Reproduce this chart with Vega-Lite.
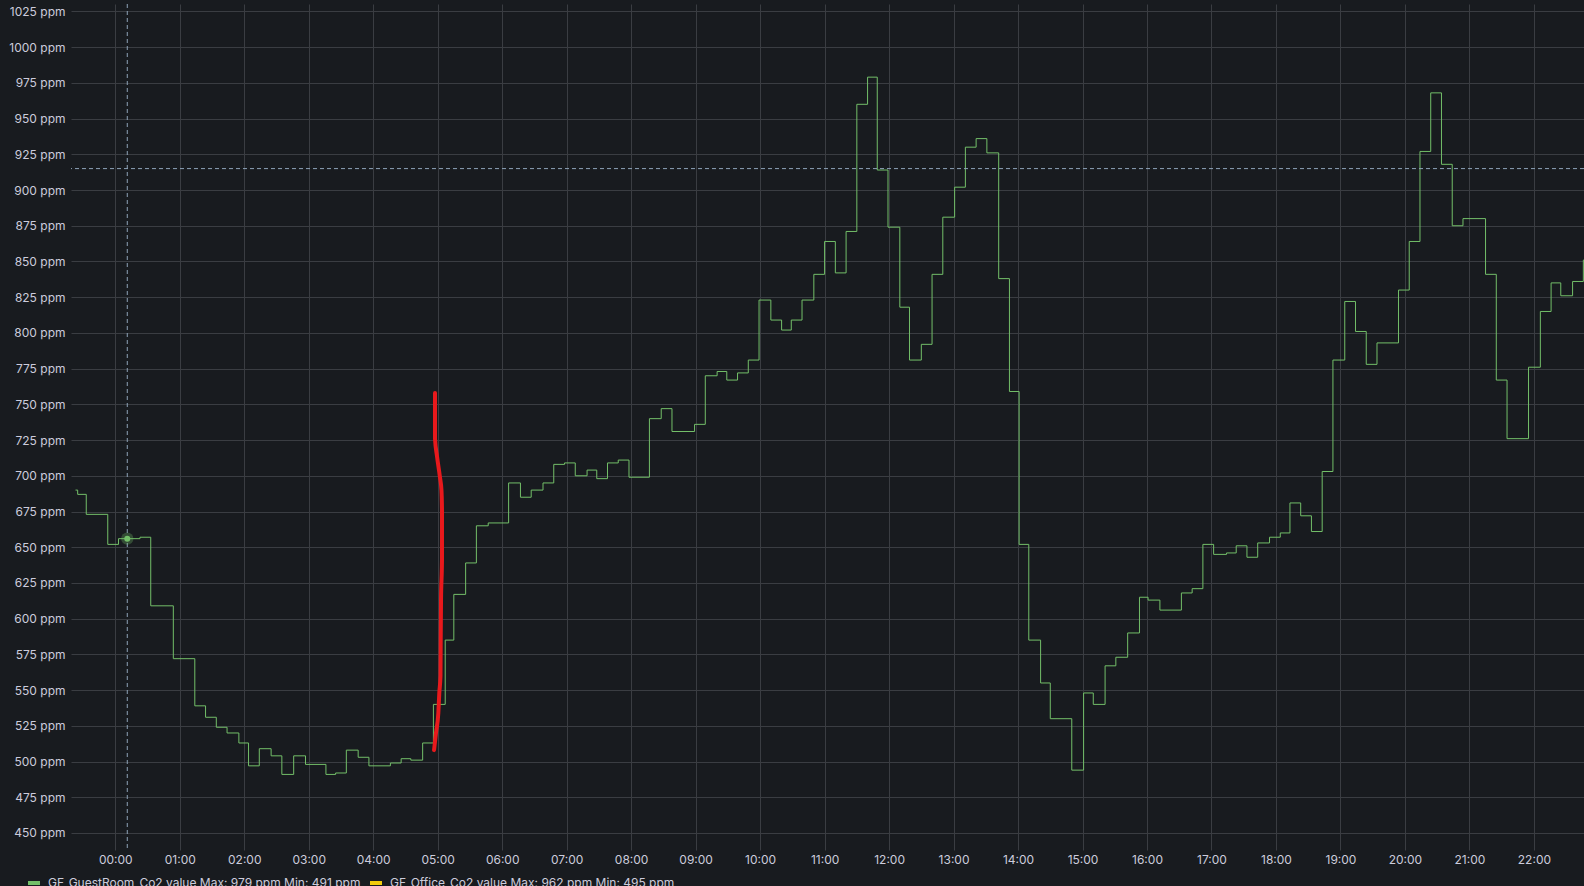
{
  "$schema": "https://vega.github.io/schema/vega-lite/v6.json",
  "width": 1513,
  "height": 846,
  "autosize": {"type": "none"},
  "padding": {"left": 71, "top": 4, "right": 0, "bottom": 36},
  "background": "#181b1f",
  "config": {
    "view": {"stroke": null},
    "font": "Inter",
    "axis": {
      "labelFont": "Inter",
      "labelFontSize": 12,
      "labelColor": "#ccccdc",
      "gridColor": "#3a3d42",
      "gridWidth": 1,
      "domain": false,
      "ticks": false,
      "title": null
    }
  },
  "datasets": {
    "co2": [
      {"time": "2023-12-31T23:23:00", "ppm": 690},
      {"time": "2023-12-31T23:25:00", "ppm": 687},
      {"time": "2023-12-31T23:33:00", "ppm": 673},
      {"time": "2023-12-31T23:53:00", "ppm": 652},
      {"time": "2024-01-01T00:03:00", "ppm": 656},
      {"time": "2024-01-01T00:23:00", "ppm": 657},
      {"time": "2024-01-01T00:33:00", "ppm": 609},
      {"time": "2024-01-01T00:54:00", "ppm": 572},
      {"time": "2024-01-01T01:14:00", "ppm": 539},
      {"time": "2024-01-01T01:24:00", "ppm": 531},
      {"time": "2024-01-01T01:34:00", "ppm": 524},
      {"time": "2024-01-01T01:44:00", "ppm": 520},
      {"time": "2024-01-01T01:55:00", "ppm": 513},
      {"time": "2024-01-01T02:04:00", "ppm": 497},
      {"time": "2024-01-01T02:14:00", "ppm": 509},
      {"time": "2024-01-01T02:25:00", "ppm": 504},
      {"time": "2024-01-01T02:35:00", "ppm": 491},
      {"time": "2024-01-01T02:46:00", "ppm": 504},
      {"time": "2024-01-01T02:57:00", "ppm": 498},
      {"time": "2024-01-01T03:16:00", "ppm": 491},
      {"time": "2024-01-01T03:25:00", "ppm": 492},
      {"time": "2024-01-01T03:35:00", "ppm": 508},
      {"time": "2024-01-01T03:46:00", "ppm": 503},
      {"time": "2024-01-01T03:56:00", "ppm": 497},
      {"time": "2024-01-01T04:16:00", "ppm": 499},
      {"time": "2024-01-01T04:26:00", "ppm": 502},
      {"time": "2024-01-01T04:35:00", "ppm": 501},
      {"time": "2024-01-01T04:46:00", "ppm": 513},
      {"time": "2024-01-01T04:56:00", "ppm": 540},
      {"time": "2024-01-01T05:07:00", "ppm": 585},
      {"time": "2024-01-01T05:15:00", "ppm": 617},
      {"time": "2024-01-01T05:26:00", "ppm": 639},
      {"time": "2024-01-01T05:36:00", "ppm": 665},
      {"time": "2024-01-01T05:47:00", "ppm": 667},
      {"time": "2024-01-01T06:06:00", "ppm": 695},
      {"time": "2024-01-01T06:17:00", "ppm": 685},
      {"time": "2024-01-01T06:27:00", "ppm": 690},
      {"time": "2024-01-01T06:38:00", "ppm": 695},
      {"time": "2024-01-01T06:48:00", "ppm": 708},
      {"time": "2024-01-01T06:58:00", "ppm": 709},
      {"time": "2024-01-01T07:08:00", "ppm": 700},
      {"time": "2024-01-01T07:19:00", "ppm": 704},
      {"time": "2024-01-01T07:28:00", "ppm": 698},
      {"time": "2024-01-01T07:38:00", "ppm": 709},
      {"time": "2024-01-01T07:48:00", "ppm": 711},
      {"time": "2024-01-01T07:58:00", "ppm": 699},
      {"time": "2024-01-01T08:17:00", "ppm": 740},
      {"time": "2024-01-01T08:28:00", "ppm": 747},
      {"time": "2024-01-01T08:38:00", "ppm": 731},
      {"time": "2024-01-01T08:59:00", "ppm": 736},
      {"time": "2024-01-01T09:09:00", "ppm": 770},
      {"time": "2024-01-01T09:20:00", "ppm": 773},
      {"time": "2024-01-01T09:29:00", "ppm": 767},
      {"time": "2024-01-01T09:39:00", "ppm": 772},
      {"time": "2024-01-01T09:49:00", "ppm": 781},
      {"time": "2024-01-01T09:59:00", "ppm": 823},
      {"time": "2024-01-01T10:10:00", "ppm": 809},
      {"time": "2024-01-01T10:20:00", "ppm": 802},
      {"time": "2024-01-01T10:29:00", "ppm": 809},
      {"time": "2024-01-01T10:39:00", "ppm": 823},
      {"time": "2024-01-01T10:50:00", "ppm": 841},
      {"time": "2024-01-01T11:00:00", "ppm": 864},
      {"time": "2024-01-01T11:10:00", "ppm": 842},
      {"time": "2024-01-01T11:20:00", "ppm": 871},
      {"time": "2024-01-01T11:30:00", "ppm": 960},
      {"time": "2024-01-01T11:40:00", "ppm": 979},
      {"time": "2024-01-01T11:49:00", "ppm": 914},
      {"time": "2024-01-01T11:59:00", "ppm": 874},
      {"time": "2024-01-01T12:10:00", "ppm": 818},
      {"time": "2024-01-01T12:19:00", "ppm": 781},
      {"time": "2024-01-01T12:30:00", "ppm": 792},
      {"time": "2024-01-01T12:40:00", "ppm": 841},
      {"time": "2024-01-01T12:50:00", "ppm": 881},
      {"time": "2024-01-01T13:01:00", "ppm": 902},
      {"time": "2024-01-01T13:11:00", "ppm": 930},
      {"time": "2024-01-01T13:21:00", "ppm": 936},
      {"time": "2024-01-01T13:31:00", "ppm": 926},
      {"time": "2024-01-01T13:42:00", "ppm": 838},
      {"time": "2024-01-01T13:52:00", "ppm": 759},
      {"time": "2024-01-01T14:01:00", "ppm": 652},
      {"time": "2024-01-01T14:10:00", "ppm": 585},
      {"time": "2024-01-01T14:21:00", "ppm": 555},
      {"time": "2024-01-01T14:30:00", "ppm": 530},
      {"time": "2024-01-01T14:50:00", "ppm": 494},
      {"time": "2024-01-01T15:01:00", "ppm": 548},
      {"time": "2024-01-01T15:10:00", "ppm": 540},
      {"time": "2024-01-01T15:21:00", "ppm": 567},
      {"time": "2024-01-01T15:31:00", "ppm": 573},
      {"time": "2024-01-01T15:42:00", "ppm": 590},
      {"time": "2024-01-01T15:53:00", "ppm": 615},
      {"time": "2024-01-01T16:01:00", "ppm": 613},
      {"time": "2024-01-01T16:12:00", "ppm": 606},
      {"time": "2024-01-01T16:32:00", "ppm": 618},
      {"time": "2024-01-01T16:42:00", "ppm": 621},
      {"time": "2024-01-01T16:52:00", "ppm": 652},
      {"time": "2024-01-01T17:02:00", "ppm": 645},
      {"time": "2024-01-01T17:14:00", "ppm": 646},
      {"time": "2024-01-01T17:23:00", "ppm": 651},
      {"time": "2024-01-01T17:33:00", "ppm": 643},
      {"time": "2024-01-01T17:43:00", "ppm": 653},
      {"time": "2024-01-01T17:54:00", "ppm": 657},
      {"time": "2024-01-01T18:04:00", "ppm": 660},
      {"time": "2024-01-01T18:13:00", "ppm": 681},
      {"time": "2024-01-01T18:23:00", "ppm": 672},
      {"time": "2024-01-01T18:33:00", "ppm": 661},
      {"time": "2024-01-01T18:43:00", "ppm": 703},
      {"time": "2024-01-01T18:53:00", "ppm": 781},
      {"time": "2024-01-01T19:04:00", "ppm": 822},
      {"time": "2024-01-01T19:14:00", "ppm": 801},
      {"time": "2024-01-01T19:24:00", "ppm": 778},
      {"time": "2024-01-01T19:34:00", "ppm": 793},
      {"time": "2024-01-01T19:54:00", "ppm": 830},
      {"time": "2024-01-01T20:04:00", "ppm": 864},
      {"time": "2024-01-01T20:14:00", "ppm": 927},
      {"time": "2024-01-01T20:24:00", "ppm": 968},
      {"time": "2024-01-01T20:34:00", "ppm": 918},
      {"time": "2024-01-01T20:44:00", "ppm": 875},
      {"time": "2024-01-01T20:54:00", "ppm": 880},
      {"time": "2024-01-01T21:15:00", "ppm": 841},
      {"time": "2024-01-01T21:25:00", "ppm": 767},
      {"time": "2024-01-01T21:35:00", "ppm": 726},
      {"time": "2024-01-01T21:55:00", "ppm": 776},
      {"time": "2024-01-01T22:06:00", "ppm": 815},
      {"time": "2024-01-01T22:16:00", "ppm": 835},
      {"time": "2024-01-01T22:25:00", "ppm": 826},
      {"time": "2024-01-01T22:36:00", "ppm": 836},
      {"time": "2024-01-01T22:46:00", "ppm": 851},
      {"time": "2024-01-01T23:00:00", "ppm": 851}
    ],
    "annotation": [
      {"seq": 1, "time": "2024-01-01T04:57:30", "ppm": 758},
      {"seq": 2, "time": "2024-01-01T04:57:30", "ppm": 726},
      {"seq": 3, "time": "2024-01-01T04:59:18", "ppm": 714},
      {"seq": 4, "time": "2024-01-01T05:02:06", "ppm": 699},
      {"seq": 5, "time": "2024-01-01T05:03:30", "ppm": 690},
      {"seq": 6, "time": "2024-01-01T05:04:00", "ppm": 676},
      {"seq": 7, "time": "2024-01-01T05:04:00", "ppm": 641},
      {"seq": 8, "time": "2024-01-01T05:03:06", "ppm": 613},
      {"seq": 9, "time": "2024-01-01T05:02:48", "ppm": 585},
      {"seq": 10, "time": "2024-01-01T05:02:36", "ppm": 560},
      {"seq": 11, "time": "2024-01-01T05:01:30", "ppm": 548},
      {"seq": 12, "time": "2024-01-01T05:00:36", "ppm": 534},
      {"seq": 13, "time": "2024-01-01T04:58:24", "ppm": 520},
      {"seq": 14, "time": "2024-01-01T04:56:36", "ppm": 508}
    ],
    "cursor": [
      {"time": "2024-01-01T00:11:10", "ppm": 656, "pointer": 915}
    ]
  },
  "layer": [
    {
      "data": {"name": "co2"},
      "mark": {"type": "line", "interpolate": "step-after", "strokeWidth": 1, "clip": true},
      "encoding": {
        "x": {
          "field": "time",
          "type": "temporal",
          "scale": {
            "domain": ["2023-12-31T23:18:48", "2024-01-01T22:46:37"]
          },
          "axis": {
            "format": "%H:%M",
            "tickCount": 24,
            "labelPadding": 4,
            "labelFlush": false,
            "labelOverlap": false
          }
        },
        "y": {
          "field": "ppm",
          "type": "quantitative",
          "scale": {"domain": [438.1, 1030.2], "nice": false, "zero": false},
          "axis": {
            "tickCount": 120,
            "labelExpr": "datum.value % 25 === 0 ? datum.value + ' ppm' : ''",
            "labelPadding": 6,
            "labelOverlap": false,
            "labelFlush": false,
            "gridOpacity": {"condition": {"test": "datum.value % 25 === 0", "value": 1}, "value": 0}
          }
        },
        "color": {
          "datum": "GF_GuestRoom_Co2 value",
          "type": "nominal",
          "scale": {
            "domain": ["GF_GuestRoom_Co2 value", "GF_Office_Co2 value"],
            "range": ["#73bf69", "#f2cc0c"]
          },
          "legend": {
            "orient": "none",
            "legendX": -45,
            "legendY": 871,
            "direction": "horizontal",
            "title": null,
            "padding": 0,
            "symbolType": "stroke",
            "symbolSize": 144,
            "symbolStrokeWidth": 4,
            "labelFont": "Inter",
            "labelFontSize": 12,
            "labelColor": "#ccccdc",
            "labelOffset": 6,
            "labelLimit": 0,
            "columnPadding": -6,
            "labelExpr": "datum.value == 'GF_GuestRoom_Co2 value' ? 'GF_GuestRoom_Co2 value  Max: 979 ppm  Min: 491 ppm' : 'GF_Office_Co2 value  Max: 962 ppm  Min: 495 ppm'"
          }
        }
      }
    },
    {
      "data": {"name": "cursor"},
      "mark": {"type": "rule", "color": "#8ea3b8", "strokeDash": [4, 3], "strokeWidth": 1},
      "encoding": {"x": {"field": "time", "type": "temporal"}}
    },
    {
      "data": {"name": "cursor"},
      "mark": {"type": "rule", "color": "#8ea3b8", "strokeDash": [4, 3], "strokeWidth": 1},
      "encoding": {"y": {"field": "pointer", "type": "quantitative"}}
    },
    {
      "data": {"name": "cursor"},
      "mark": {"type": "point", "filled": true, "color": "#73bf69", "opacity": 0.3, "size": 150},
      "encoding": {"x": {"field": "time", "type": "temporal"}, "y": {"field": "ppm", "type": "quantitative"}}
    },
    {
      "data": {"name": "cursor"},
      "mark": {"type": "point", "filled": true, "color": "#73bf69", "opacity": 1, "size": 36},
      "encoding": {"x": {"field": "time", "type": "temporal"}, "y": {"field": "ppm", "type": "quantitative"}}
    },
    {
      "data": {"name": "annotation"},
      "mark": {"type": "line", "color": "#e8191c", "strokeWidth": 4, "strokeCap": "round", "strokeJoin": "round", "interpolate": "monotone"},
      "encoding": {
        "x": {"field": "time", "type": "temporal"},
        "y": {"field": "ppm", "type": "quantitative"},
        "order": {"field": "seq", "type": "quantitative"}
      }
    }
  ]
}
